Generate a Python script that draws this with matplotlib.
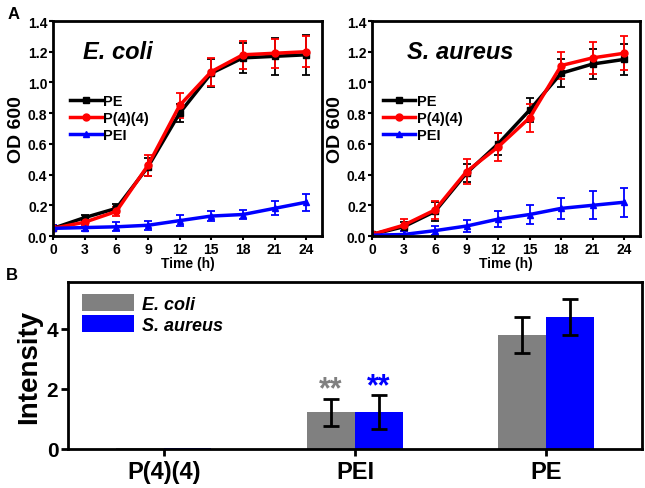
import numpy as np
import matplotlib
matplotlib.use("Agg")
import matplotlib.pyplot as plt

plt.rcParams["font.family"] = ["Liberation Sans", "DejaVu Sans"]
plt.rcParams["font.weight"] = "bold"

# growth curves
hours = [0, 3, 6, 9, 12, 15, 18, 21, 24]

ecoli_pe = [0.05, 0.12, 0.18, 0.45, 0.80, 1.06, 1.16, 1.17, 1.18]
ecoli_pe_err = [0.01, 0.02, 0.03, 0.06, 0.06, 0.09, 0.10, 0.12, 0.13]
ecoli_p44 = [0.05, 0.09, 0.16, 0.46, 0.85, 1.07, 1.18, 1.19, 1.20]
ecoli_p44_err = [0.01, 0.02, 0.03, 0.07, 0.08, 0.09, 0.09, 0.095, 0.10]
ecoli_pei = [0.05, 0.055, 0.06, 0.07, 0.10, 0.13, 0.14, 0.18, 0.22]
ecoli_pei_err = [0.02, 0.02, 0.03, 0.03, 0.035, 0.035, 0.03, 0.045, 0.055]

saureus_pe = [0.01, 0.06, 0.16, 0.41, 0.60, 0.82, 1.06, 1.12, 1.15]
saureus_pe_err = [0.01, 0.03, 0.06, 0.06, 0.07, 0.08, 0.09, 0.10, 0.10]
saureus_p44 = [0.01, 0.07, 0.17, 0.42, 0.58, 0.77, 1.11, 1.16, 1.19]
saureus_p44_err = [0.01, 0.04, 0.06, 0.08, 0.09, 0.09, 0.09, 0.105, 0.11]
saureus_pei = [0.005, 0.01, 0.035, 0.065, 0.11, 0.14, 0.18, 0.20, 0.22]
saureus_pei_err = [0.01, 0.02, 0.03, 0.04, 0.05, 0.06, 0.07, 0.09, 0.095]

# bar panel
groups = ["P(4)(4)", "PEI", "PE"]
ecoli_int = [0.02, 1.22, 3.80]
ecoli_int_err = [0.0, 0.45, 0.60]
saureus_int = [0.02, 1.22, 4.38]
saureus_int_err = [0.0, 0.56, 0.60]

fig = plt.figure(figsize=(6.45, 4.89), dpi=100)


def growth_panel(ax, pe, pe_err, p44, p44_err, pei, pei_err, title, title_x, leg_x):
    kw = dict(lw=2.5, ms=5, capsize=3, elinewidth=1.3, capthick=1.3)
    ax.errorbar(hours, pe, yerr=pe_err, color="black", marker="s", label="PE", **kw)
    ax.errorbar(hours, p44, yerr=p44_err, color="red", marker="o", label="P(4)(4)", **kw)
    ax.errorbar(hours, pei, yerr=pei_err, color="blue", marker="^", label="PEI", **kw)
    ax.set_xlim(0, 25.5)
    ax.set_ylim(0, 1.4)
    ax.set_xticks(hours)
    ax.set_yticks(np.arange(0, 1.41, 0.2))
    ax.set_yticklabels(["%.1f" % v for v in np.arange(0, 1.41, 0.2)])
    ax.tick_params(labelsize=10, width=1.5, length=3, pad=1)
    for s in ax.spines.values():
        s.set_linewidth(2)
    ax.set_xlabel("Time (h)", fontsize=10, fontweight="bold", labelpad=0)
    ax.set_ylabel("OD 600", fontsize=14, fontweight="bold", labelpad=2)
    ax.text(title_x, 0.86, title, transform=ax.transAxes, fontsize=17,
            fontweight="bold", style="italic", va="center")
    handles, labels = ax.get_legend_handles_labels()
    handles = [h[0] for h in handles]
    ax.legend(handles, labels, loc="center left", bbox_to_anchor=(leg_x, 0.55),
              frameon=False, fontsize=10.5, handlelength=2.2, handletextpad=0.1,
              labelspacing=0.2, borderaxespad=0)


ax1 = fig.add_axes([0.0822, 0.5153, 0.417, 0.4397])
growth_panel(ax1, ecoli_pe, ecoli_pe_err, ecoli_p44, ecoli_p44_err,
             ecoli_pei, ecoli_pei_err, "E. coli", 0.11, 0.04)

ax2 = fig.add_axes([0.5767, 0.5153, 0.4155, 0.4397])
growth_panel(ax2, saureus_pe, saureus_pe_err, saureus_p44, saureus_p44_err,
             saureus_pei, saureus_pei_err, "S. aureus", 0.13, 0.02)

ax3 = fig.add_axes([0.1054, 0.0798, 0.8899, 0.3415])
x = np.arange(len(groups))
w = 0.25
ax3.bar(x - w / 2, ecoli_int, w, color="#808080", label="E. coli")
ax3.bar(x + w / 2, saureus_int, w, color="#0000ff", label="S. aureus")
ax3.errorbar(x[1:] - w / 2, ecoli_int[1:], yerr=ecoli_int_err[1:], fmt="none",
             ecolor="black", elinewidth=2, capsize=6, capthick=2)
ax3.errorbar(x[1:] + w / 2, saureus_int[1:], yerr=saureus_int_err[1:], fmt="none",
             ecolor="black", elinewidth=2, capsize=6, capthick=2)
ax3.text(x[1] - w / 2, 2.0, "**", color="#808080", fontsize=22,
         fontweight="bold", ha="center", va="center")
ax3.text(x[1] + w / 2, 2.1, "**", color="#0000ff", fontsize=22,
         fontweight="bold", ha="center", va="center")
ax3.set_xlim(-0.5, 2.5)
ax3.set_ylim(0, 5.55)
ax3.set_xticks(x)
ax3.set_xticklabels(groups)
ax3.set_yticks([0, 2, 4])
ax3.tick_params(axis="x", labelsize=17, width=2, length=5, pad=3)
ax3.tick_params(axis="y", labelsize=15, width=2, length=5, pad=2)
for s in ax3.spines.values():
    s.set_linewidth(2)
ax3.set_ylabel("Intensity", fontsize=20, fontweight="bold", labelpad=3)
leg = ax3.legend(loc="upper left", bbox_to_anchor=(0.012, 0.97), frameon=False,
                 fontsize=13, handlelength=2.9, handleheight=1.05,
                 handletextpad=0.4, labelspacing=0.15, borderaxespad=0)
for t in leg.get_texts():
    t.set_style("italic")

fig.text(0.011, 0.985, "A", fontsize=12, fontweight="bold", va="top")
fig.text(0.009, 0.452, "B", fontsize=12, fontweight="bold", va="top")

fig.savefig("out.png", dpi=100)
